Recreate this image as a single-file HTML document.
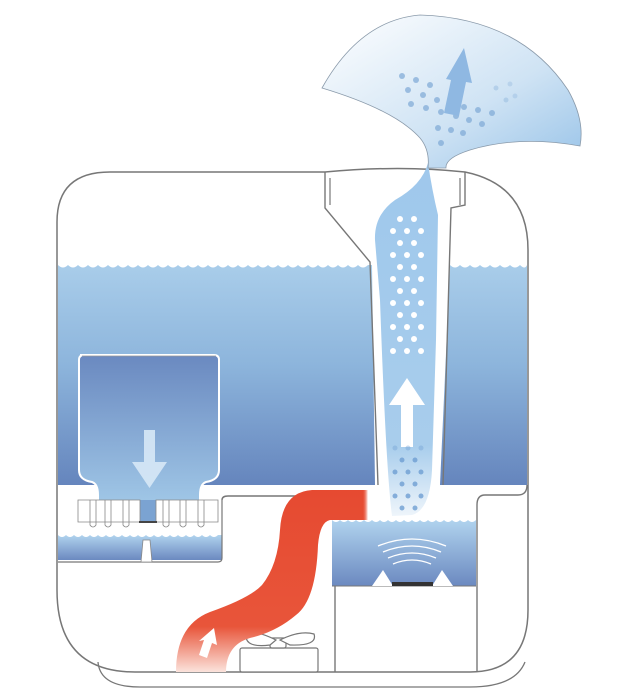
<!DOCTYPE html>
<html><head><meta charset="utf-8"><style>html,body{margin:0;padding:0;background:#fff}svg{display:block}</style></head>
<body>
<svg width="620" height="700" viewBox="0 0 620 700" xmlns="http://www.w3.org/2000/svg">
<defs>
<linearGradient id="w" x1="0" y1="0" x2="0" y2="1"><stop offset="0" stop-color="#a9cdea"/><stop offset="0.45" stop-color="#8db5dc"/><stop offset="1" stop-color="#6585bd"/></linearGradient>
<linearGradient id="b" x1="0" y1="0" x2="0" y2="1"><stop offset="0" stop-color="#6a89c0"/><stop offset="1" stop-color="#9fc6e6"/></linearGradient>
<linearGradient id="r" x1="0" y1="0" x2="0" y2="1"><stop offset="0" stop-color="#b0d3ee"/><stop offset="1" stop-color="#6b89c0"/></linearGradient>
<linearGradient id="m" x1="0" y1="0" x2="0" y2="1"><stop offset="0" stop-color="#9fc8ec"/><stop offset="0.8" stop-color="#a8cdec"/><stop offset="1" stop-color="#eef5fb"/></linearGradient>
<linearGradient id="p" x1="0" y1="0" x2="1" y2="1"><stop offset="0" stop-color="#ffffff"/><stop offset="0.6" stop-color="#cfe3f4"/><stop offset="1" stop-color="#98c3e8"/></linearGradient>
<linearGradient id="red" x1="0" y1="1" x2="0" y2="0"><stop offset="0" stop-color="#fbe3dc"/><stop offset="0.25" stop-color="#e8553a"/><stop offset="1" stop-color="#e64a31"/></linearGradient>
<linearGradient id="redh" x1="0" y1="0" x2="1" y2="0"><stop offset="0.85" stop-color="#e64a31" stop-opacity="0"/><stop offset="1" stop-color="#fff"/></linearGradient>
</defs>
<!-- outer body -->
<path d="M110 172 H322 L325 172 Q400 165 465 172 Q528 185 528 250 V610 Q528 672 470 672 H135 Q57 672 57 590 V222 Q57 172 110 172 Z" fill="#fff" stroke="#777" stroke-width="1.5"/>
<path d="M98 662 Q100 687 140 687 H470 Q515 687 525 662" fill="none" stroke="#777" stroke-width="1.3"/>
<!-- main tank water -->
<path d="M58 265 H372 L375 485 H58 Z" fill="url(#w)"/>
<path d="M450 265 H527 V485 H440 Z" fill="url(#w)"/>
<path d="M58 265 q5 5 10 0 q5 5 10 0 q5 5 10 0 q5 5 10 0 q5 5 10 0 q5 5 10 0 q5 5 10 0 q5 5 10 0 q5 5 10 0 q5 5 10 0 q5 5 10 0 q5 5 10 0 q5 5 10 0 q5 5 10 0 q5 5 10 0 q5 5 10 0 q5 5 10 0 q5 5 10 0 q5 5 10 0 q5 5 10 0 q5 5 10 0 q5 5 10 0 q5 5 10 0 q5 5 10 0 q5 5 10 0 q5 5 10 0 q5 5 10 0 q5 5 10 0 q5 5 10 0 q5 5 10 0 q5 5 10 0" fill="#fff"/>
<path d="M450 265 q5 5 10 0 q5 5 10 0 q5 5 10 0 q5 5 10 0 q5 5 10 0 q5 5 10 0 q5 5 10 0 q5 5 7 0" fill="#fff"/>
<!-- chimney walls -->
<path d="M325 172 V208 L370 262 L378 485" fill="none" stroke="#777" stroke-width="1.4"/>
<path d="M330 178 V205" fill="none" stroke="#777" stroke-width="1.2"/>
<path d="M465 172 V205 L451 208 L443 485" fill="none" stroke="#777" stroke-width="1.4"/>
<path d="M460 178 V205" fill="none" stroke="#777" stroke-width="1.2"/>
<!-- lower white section -->
<rect x="58" y="485" width="469" height="50" fill="#fff"/>
<path d="M527 485 Q527 495 518 495 H485 Q477 495 477 505 V672" fill="none" stroke="#777" stroke-width="1.4"/>
<!-- left small reservoir -->
<path d="M58 535 H222 V560 H58 Z" fill="url(#r)"/>
<path d="M58 535 q4 4 8 0 q4 4 8 0 q4 4 8 0 q4 4 8 0 q4 4 8 0 q4 4 8 0 q4 4 8 0 q4 4 8 0 q4 4 8 0 q4 4 8 0 q4 4 8 0 q4 4 8 0 q4 4 8 0 q4 4 8 0 q4 4 8 0 q4 4 8 0 q4 4 8 0 q4 4 8 0 q4 4 8 0 q4 4 8 0 q4 4 8" fill="#fff"/>
<path d="M222 500 Q222 496 228 496 H366 V520 H335 V672" fill="none" stroke="#777" stroke-width="1.4"/>
<path d="M222 500 V558 Q222 562 218 562 H58" fill="none" stroke="#777" stroke-width="1.2"/>
<path d="M143 540 H150 L152 562 H141 Z" fill="#fff" stroke="#888" stroke-width="0.8"/>
<!-- bucket -->
<path d="M80 355 H214 Q219 355 219 360 V470 Q219 480 206 482 Q200 484 200 495 V502 H98 V495 Q98 484 92 482 Q79 480 79 470 V360 Q79 355 84 355 Z" fill="url(#b)" stroke="#fff" stroke-width="2"/>
<path d="M82 356 H216" stroke="#999" stroke-width="0.8"/>
<rect x="140" y="500" width="16" height="22" fill="#7ba3d2"/>
<g fill="#fff" stroke="#888" stroke-width="0.8">
<path d="M78 500 H140 V522 H78 Z"/><path d="M156 500 H218 V522 H156 Z"/>
<path d="M90 500 V525 q3 4 6 0 V500 M105 500 V525 q3 4 6 0 V500 M123 500 V525 q3 4 6 0 V500 M163 500 V525 q3 4 6 0 V500 M180 500 V525 q3 4 6 0 V500 M198 500 V525 q3 4 6 0 V500" fill="none"/>
</g>
<rect x="139" y="521" width="18" height="2" fill="#444"/>
<path d="M144 430 H155 V462 H167 L149.5 488 L132 462 H144 Z" fill="#d7e8f6" opacity="0.9"/>
<!-- right reservoir -->
<rect x="332" y="520" width="144" height="66" fill="url(#r)"/>
<path d="M332 520 q4 4 8 0 q4 4 8 0 q4 4 8 0 q4 4 8 0 q4 4 8 0 q4 4 8 0 q4 4 8 0 q4 4 8 0 q4 4 8 0 q4 4 8 0 q4 4 8 0 q4 4 8 0 q4 4 8 0 q4 4 8 0 q4 4 8 0 q4 4 8 0 q4 4 8 0 q4 4 8 0" fill="#fff"/>
<path d="M332 586 H476" stroke="#777" stroke-width="1"/>
<path d="M372 586 L383 570 L393 586 Z M432 586 L442 570 L453 586 Z" fill="#fff"/>
<rect x="392" y="582" width="41" height="4" fill="#333"/>
<g fill="none" stroke="#fff" stroke-width="1.3">
<path d="M378 546 Q412 532 446 546"/><path d="M383 552 Q412 540 441 552"/><path d="M388 558 Q412 548 436 558"/><path d="M393 564 Q412 556 431 564"/>
</g>
<!-- fan -->
<g fill="#fff" stroke="#777" stroke-width="1.2">
<rect x="240" y="648" width="78" height="24" rx="2"/>
<rect x="270" y="638" width="16" height="10" rx="2"/>
<path d="M276 640 Q252 628 246 636 Q246 648 270 645 Z"/>
<path d="M280 640 Q300 630 314 634 Q318 646 290 645 Z"/>
</g>
<!-- red pipe -->
<path d="M176 672 Q176 625 210 612 Q250 598 262 585 Q278 565 280 530 Q282 492 312 490 H368 V520 H330 Q320 522 318 545 Q316 600 296 615 Q276 632 250 638 Q226 645 226 672 Z" fill="url(#red)"/>
<rect x="330" y="490" width="38" height="30" fill="url(#redh)"/>
<path d="M199 655 L204 640 L199 641 L214 628 L217 645 L212 643 L207 658 Z" fill="#fff"/>
<!-- mist column -->
<path d="M428 163 Q432 190 438 215 L436 340 L432 470 Q430 510 412 515 L392 516 Q386 470 380 300 L375 240 Q374 215 395 200 Q422 185 428 163 Z" fill="url(#m)"/>
<!-- plume -->
<path d="M322 88 Q360 20 420 15 Q520 18 568 90 Q585 120 580 146 Q520 135 470 150 Q445 158 446 168 L428 168 Q430 150 420 138 Q395 110 322 88 Z" fill="url(#p)" stroke="#8a9aaa" stroke-width="0.8"/>
<g fill="#7ea9d6" opacity="0.7">
<circle cx="402" cy="76" r="3"/><circle cx="416" cy="80" r="3"/><circle cx="430" cy="85" r="3"/><circle cx="408" cy="90" r="3"/><circle cx="423" cy="95" r="3"/><circle cx="437" cy="100" r="3"/><circle cx="411" cy="104" r="3"/><circle cx="426" cy="108" r="3"/><circle cx="441" cy="112" r="3"/><circle cx="456" cy="116" r="3"/><circle cx="469" cy="120" r="3"/><circle cx="482" cy="124" r="3"/><circle cx="451" cy="130" r="3"/><circle cx="438" cy="128" r="3"/><circle cx="463" cy="133" r="3"/><circle cx="441" cy="143" r="3"/><circle cx="464" cy="107" r="3"/><circle cx="478" cy="110" r="3"/><circle cx="492" cy="113" r="3"/><circle cx="506" cy="100" r="2.5" opacity="0.5"/><circle cx="496" cy="88" r="2.5" opacity="0.5"/><circle cx="510" cy="84" r="2.5" opacity="0.4"/><circle cx="515" cy="96" r="2.5" opacity="0.4"/>
</g>
<path d="M444 113 L451 80 L446 79 L464 48 L472 83 L466 82 L459 116 Z" fill="#8fb8e2"/>
<g fill="#fff">
<circle cx="400" cy="219" r="3"/><circle cx="414" cy="219" r="3"/>
<circle cx="393" cy="231" r="3"/><circle cx="407" cy="231" r="3"/><circle cx="421" cy="231" r="3"/>
<circle cx="400" cy="243" r="3"/><circle cx="414" cy="243" r="3"/>
<circle cx="393" cy="255" r="3"/><circle cx="407" cy="255" r="3"/><circle cx="421" cy="255" r="3"/>
<circle cx="400" cy="267" r="3"/><circle cx="414" cy="267" r="3"/>
<circle cx="393" cy="279" r="3"/><circle cx="407" cy="279" r="3"/><circle cx="421" cy="279" r="3"/>
<circle cx="400" cy="291" r="3"/><circle cx="414" cy="291" r="3"/>
<circle cx="393" cy="303" r="3"/><circle cx="407" cy="303" r="3"/><circle cx="421" cy="303" r="3"/>
<circle cx="400" cy="315" r="3"/><circle cx="414" cy="315" r="3"/>
<circle cx="393" cy="327" r="3"/><circle cx="407" cy="327" r="3"/><circle cx="421" cy="327" r="3"/>
<circle cx="400" cy="339" r="3"/><circle cx="414" cy="339" r="3"/>
<circle cx="393" cy="351" r="3"/><circle cx="407" cy="351" r="3"/><circle cx="421" cy="351" r="3"/>
<path d="M401 447 V405 H389 L407 378 L425 405 H413 V447 Z"/>
</g>
<g fill="#6f9fd3" opacity="0.8">
<circle cx="395" cy="448" r="2.5" opacity="0.5"/><circle cx="408" cy="448" r="2.5" opacity="0.5"/><circle cx="421" cy="448" r="2.5" opacity="0.5"/>
<circle cx="402" cy="460" r="2.5"/><circle cx="415" cy="460" r="2.5"/>
<circle cx="395" cy="472" r="2.5"/><circle cx="408" cy="472" r="2.5"/><circle cx="421" cy="472" r="2.5"/>
<circle cx="402" cy="484" r="2.5"/><circle cx="415" cy="484" r="2.5"/>
<circle cx="395" cy="496" r="2.5"/><circle cx="408" cy="496" r="2.5"/><circle cx="421" cy="496" r="2.5"/>
<circle cx="402" cy="508" r="2.5"/><circle cx="415" cy="508" r="2.5"/>
</g>
</svg>
</body></html>
